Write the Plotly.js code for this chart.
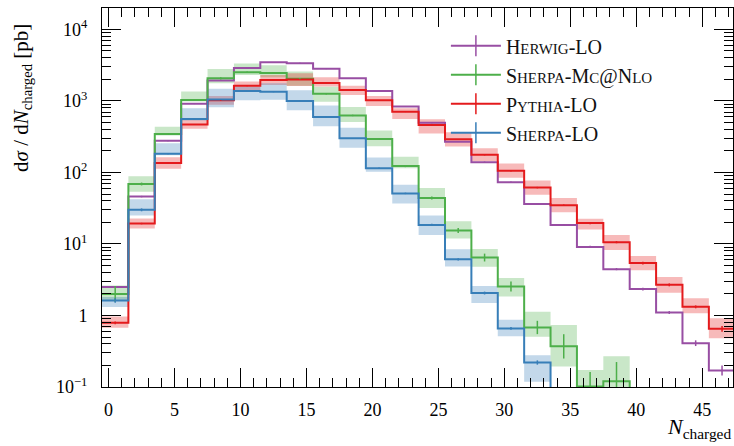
<!DOCTYPE html>
<html><head><meta charset="utf-8">
<script src="https://cdn.plot.ly/plotly-3.0.1.min.js"></script>
<style>html,body{margin:0;padding:0;background:#fff}</style>
</head><body><div id="chart" style="width:734px;height:446px"></div>
<script>
// ---- data (bins of width 2 in N_charged, centres) ----
const binCenters = [0.5,2.5,4.5,6.5,8.5,10.5,12.5,14.5,16.5,18.5,20.5,22.5,24.5,26.5,28.5,30.5,32.5,34.5,36.5,38.5,40.5,42.5,44.5,46.5];
const binWidth = 2;

const herwigLO    = [2.5,46,277,915,1940,2900,3470,3370,2820,2070,1380,840,495,269,139,73,36.3,18.5,9.1,4.45,2.34,1.1,0.41,0.17];
const sherpaMcNlo = [2.0,69,345,1030,2070,2530,2460,2050,1260,627,293,123,44,15.4,6.46,2.54,0.68,0.37,0.102,0.12,null,null,null,null];
const pythiaLO    = [0.79,19.3,136,470,1020,1630,1970,1990,1790,1420,1020,707,462,291,177,106,61.4,34.9,19.6,10.6,5.4,2.68,1.32,0.65];
const sherpaLO    = [1.62,30,182,560,1050,1380,1340,1000,596,300,115,51,18.5,6.1,2.06,0.66,0.22,null,null,null,null,null,null,null];

// uncertainty bands (in decades above / below the central value)
const sherpaMcBandUp = [0.12,0.11,0.10,0.12,0.13,0.12,0.11,0.10,0.10,0.12,0.12,0.13,0.14,0.13,0.12,0.12,0.22,0.30,0.23,0.35,null,null,null,null];
const sherpaMcBandDn = [0.08,0.11,0.02,0.02,0.07,0.04,0.06,0.10,0.11,0.09,0.10,0.03,0.14,0.11,0.13,0.14,0.13,0.28,0.30,0.30,null,null,null,null];
const pythiaBandUp   = [0.09,0.07,0.08,0.06,0.06,0.06,0.07,0.09,0.08,0.06,0.06,0.05,0.08,0.10,0.09,0.10,0.10,0.10,0.06,0.10,0.10,0.11,0.12,0.15];
const pythiaBandDn   = [0.07,0.07,0.08,0.06,0.06,0.06,0.07,0.09,0.05,0.07,0.08,0.10,0.12,0.10,0.09,0.10,0.10,0.10,0.09,0.11,0.10,0.11,0.09,0.13];
const sherpaLoBandUp = [0.05,0.15,0.15,0.15,0.15,0.06,0.12,0.15,0.16,0.15,0.15,0.12,0.13,0.14,0.10,0.12,0.10,null,null,null,null,null,null,null];
const sherpaLoBandDn = [0.09,0.08,0.02,0.02,0.11,0.13,0.11,0.13,0.13,0.13,0.05,0.14,0.14,0.10,0.14,0.11,0.27,null,null,null,null,null,null,null];

// statistical error bars (in decades)
const herwigErr   = [0.01,0.01,0.005,0.005,0.005,0.005,0.005,0.005,0.005,0.005,0.005,0.005,0.005,0.005,0.01,0.01,0.01,0.01,0.015,0.015,0.02,0.02,0.04,0.07];
const sherpaMcErr = [0.11,0.02,0.01,0.01,0.015,0.01,0.01,0.01,0.01,0.01,0.01,0.015,0.02,0.035,0.055,0.07,0.093,0.17,0.2,0.27,null,null,null,null];
const pythiaErr   = [0.02,0.01,0.005,0.005,0.005,0.005,0.005,0.005,0.005,0.005,0.005,0.005,0.005,0.005,0.01,0.01,0.01,0.01,0.015,0.015,0.02,0.02,0.02,0.04];
const sherpaLoErr = [0.03,0.02,0.005,0.005,0.005,0.005,0.005,0.005,0.005,0.005,0.01,0.01,0.015,0.015,0.02,0.02,0.03,null,null,null,null,null,null,null];

const seriesNames = ['H<span style="font-size:15px">ERWIG</span>-LO',
                     'S<span style="font-size:15px">HERPA</span>-M<span style="font-size:15px">C</span>@N<span style="font-size:15px">LO</span>',
                     'P<span style="font-size:15px">YTHIA</span>-LO',
                     'S<span style="font-size:15px">HERPA</span>-LO'];
const seriesColors = ['#984ea3','#4daf4a','#e41a1c','#377eb8'];
const bandColors   = [null,'rgba(77,175,74,0.3)','rgba(228,26,28,0.3)','rgba(55,126,184,0.3)'];

// ---- build traces ----
const FONT = 'Liberation Serif, Times New Roman, serif';
const FLOOR = 1e-5;
const seriesVals = [herwigLO, sherpaMcNlo, pythiaLO, sherpaLO];
const bandUps = [null, sherpaMcBandUp, pythiaBandUp, sherpaLoBandUp];
const bandDns = [null, sherpaMcBandDn, pythiaBandDn, sherpaLoBandDn];
const errs = [herwigErr, sherpaMcErr, pythiaErr, sherpaLoErr];

const edgesLo = binCenters.map(c => c - binWidth/2);
const lastEdge = binCenters[binCenters.length-1] + binWidth/2;

const bandTraces = [], lineTraces = [], errTraces = [], legendTraces = [];
seriesVals.forEach((vals, s) => {
  if (bandUps[s]) {
    const idx = vals.map((v,i)=>i).filter(i => vals[i] !== null && bandUps[s][i] !== null);
    const last = idx[idx.length-1];
    const bx = idx.map(i => edgesLo[i]).concat([edgesLo[last] + binWidth]);
    const lo = idx.map(i => vals[i] * Math.pow(10, -bandDns[s][i])); lo.push(lo[lo.length-1]);
    const hi = idx.map(i => vals[i] * Math.pow(10,  bandUps[s][i])); hi.push(hi[hi.length-1]);
    bandTraces.push({x: bx, y: lo, type:'scatter', mode:'lines', line:{width:0, shape:'hv'}, showlegend:false, hoverinfo:'skip'});
    bandTraces.push({x: bx, y: hi, type:'scatter', mode:'lines', line:{width:0, shape:'hv'}, fill:'tonexty', fillcolor: bandColors[s], showlegend:false, hoverinfo:'skip'});
  }
  const sx = edgesLo.concat([lastEdge]);
  const sy = vals.map(v => v === null ? FLOOR : v); sy.push(sy[sy.length-1]);
  lineTraces.push({x: sx, y: sy, type:'scatter', mode:'lines', line:{color: seriesColors[s], width:2, shape:'hv'}, showlegend:false});
  const ei = vals.map((v,i)=>i).filter(i => vals[i] !== null && errs[s][i] !== null);
  errTraces.push({
    x: ei.map(i => binCenters[i]), y: ei.map(i => vals[i]), type:'scatter', mode:'markers',
    marker:{size:1, opacity:0}, showlegend:false,
    error_y:{type:'data', symmetric:false,
      array: ei.map(i => vals[i]*(Math.pow(10, errs[s][i]) - 1)),
      arrayminus: ei.map(i => vals[i]*(1 - Math.pow(10, -errs[s][i]))),
      width:0, thickness:1.5, color: seriesColors[s]}
  });
  legendTraces.push({x:[-50], y:[1], type:'scatter', mode:'lines+markers', name: seriesNames[s],
    line:{color: seriesColors[s], width:2},
    marker:{symbol:'line-ns', size:15, color: seriesColors[s], line:{color: seriesColors[s], width:1.5}}});
});

const yMinor = [];
for (let k = -1; k <= 4; k++) for (let d = 2; d <= 9; d++) yMinor.push(d*Math.pow(10,k));

const axisCommon = {
  ticks:'inside', tickcolor:'#000', tickwidth:1, ticklen:19,
  showline:true, linecolor:'#000', linewidth:1, mirror:'allticks',
  showgrid:false, zeroline:false,
  tickfont:{family: FONT, size:18, color:'#000'}
};

const layout = {
  width:734, height:446,
  margin:{l:102, r:1, t:8, b:59},
  paper_bgcolor:'#fff', plot_bgcolor:'#fff',
  font:{family: FONT, color:'#000'},
  showlegend:true,
  legend:{x:0.545, y:0.952, xanchor:'left', yanchor:'top', bgcolor:'rgba(0,0,0,0)', traceorder:'normal',
          font:{family: FONT, size:20, color:'#111'}, tracegroupgap:0, itemwidth:50},
  xaxis: Object.assign({}, axisCommon, {
    range:[-0.5, 47.33], tickmode:'linear', tick0:0, dtick:5, ticklabelstandoff:6,
    minor:{dtick:1, tick0:0, ticks:'inside', ticklen:9, tickcolor:'#000', tickwidth:1}
  }),
  yaxis: Object.assign({}, axisCommon, {
    type:'log', range:[-1, 4.3], tickmode:'array',
    tickvals:[0.1,1,10,100,1000,10000],
    ticktext:['10<sup>−1</sup>','1','10<sup>1</sup>','10<sup>2</sup>','10<sup>3</sup>','10<sup>4</sup>'],
    ticklabelstandoff:10,
    minor:{tickmode:'array', tickvals: yMinor, ticks:'inside', ticklen:9, tickcolor:'#000', tickwidth:1}
  }),
  annotations:[
    {xref:'paper', yref:'paper', x:-0.127, y:0.7625, xanchor:'center', yanchor:'middle', textangle:-90, showarrow:false,
     text:'d<i>σ</i> / d<i>N</i><sub>charged</sub> [pb]', font:{family: FONT, size:21, color:'#000'}},
    {xref:'paper', yref:'paper', x:1.0, y:-0.108, xanchor:'right', yanchor:'middle', showarrow:false,
     text:'<i>N</i><sub>charged</sub>', font:{family: FONT, size:22, color:'#000'}}
  ]
};

Plotly.newPlot('chart', bandTraces.concat(lineTraces, errTraces, legendTraces), layout, {displayModeBar:false, staticPlot:true});
</script>
</body></html>
